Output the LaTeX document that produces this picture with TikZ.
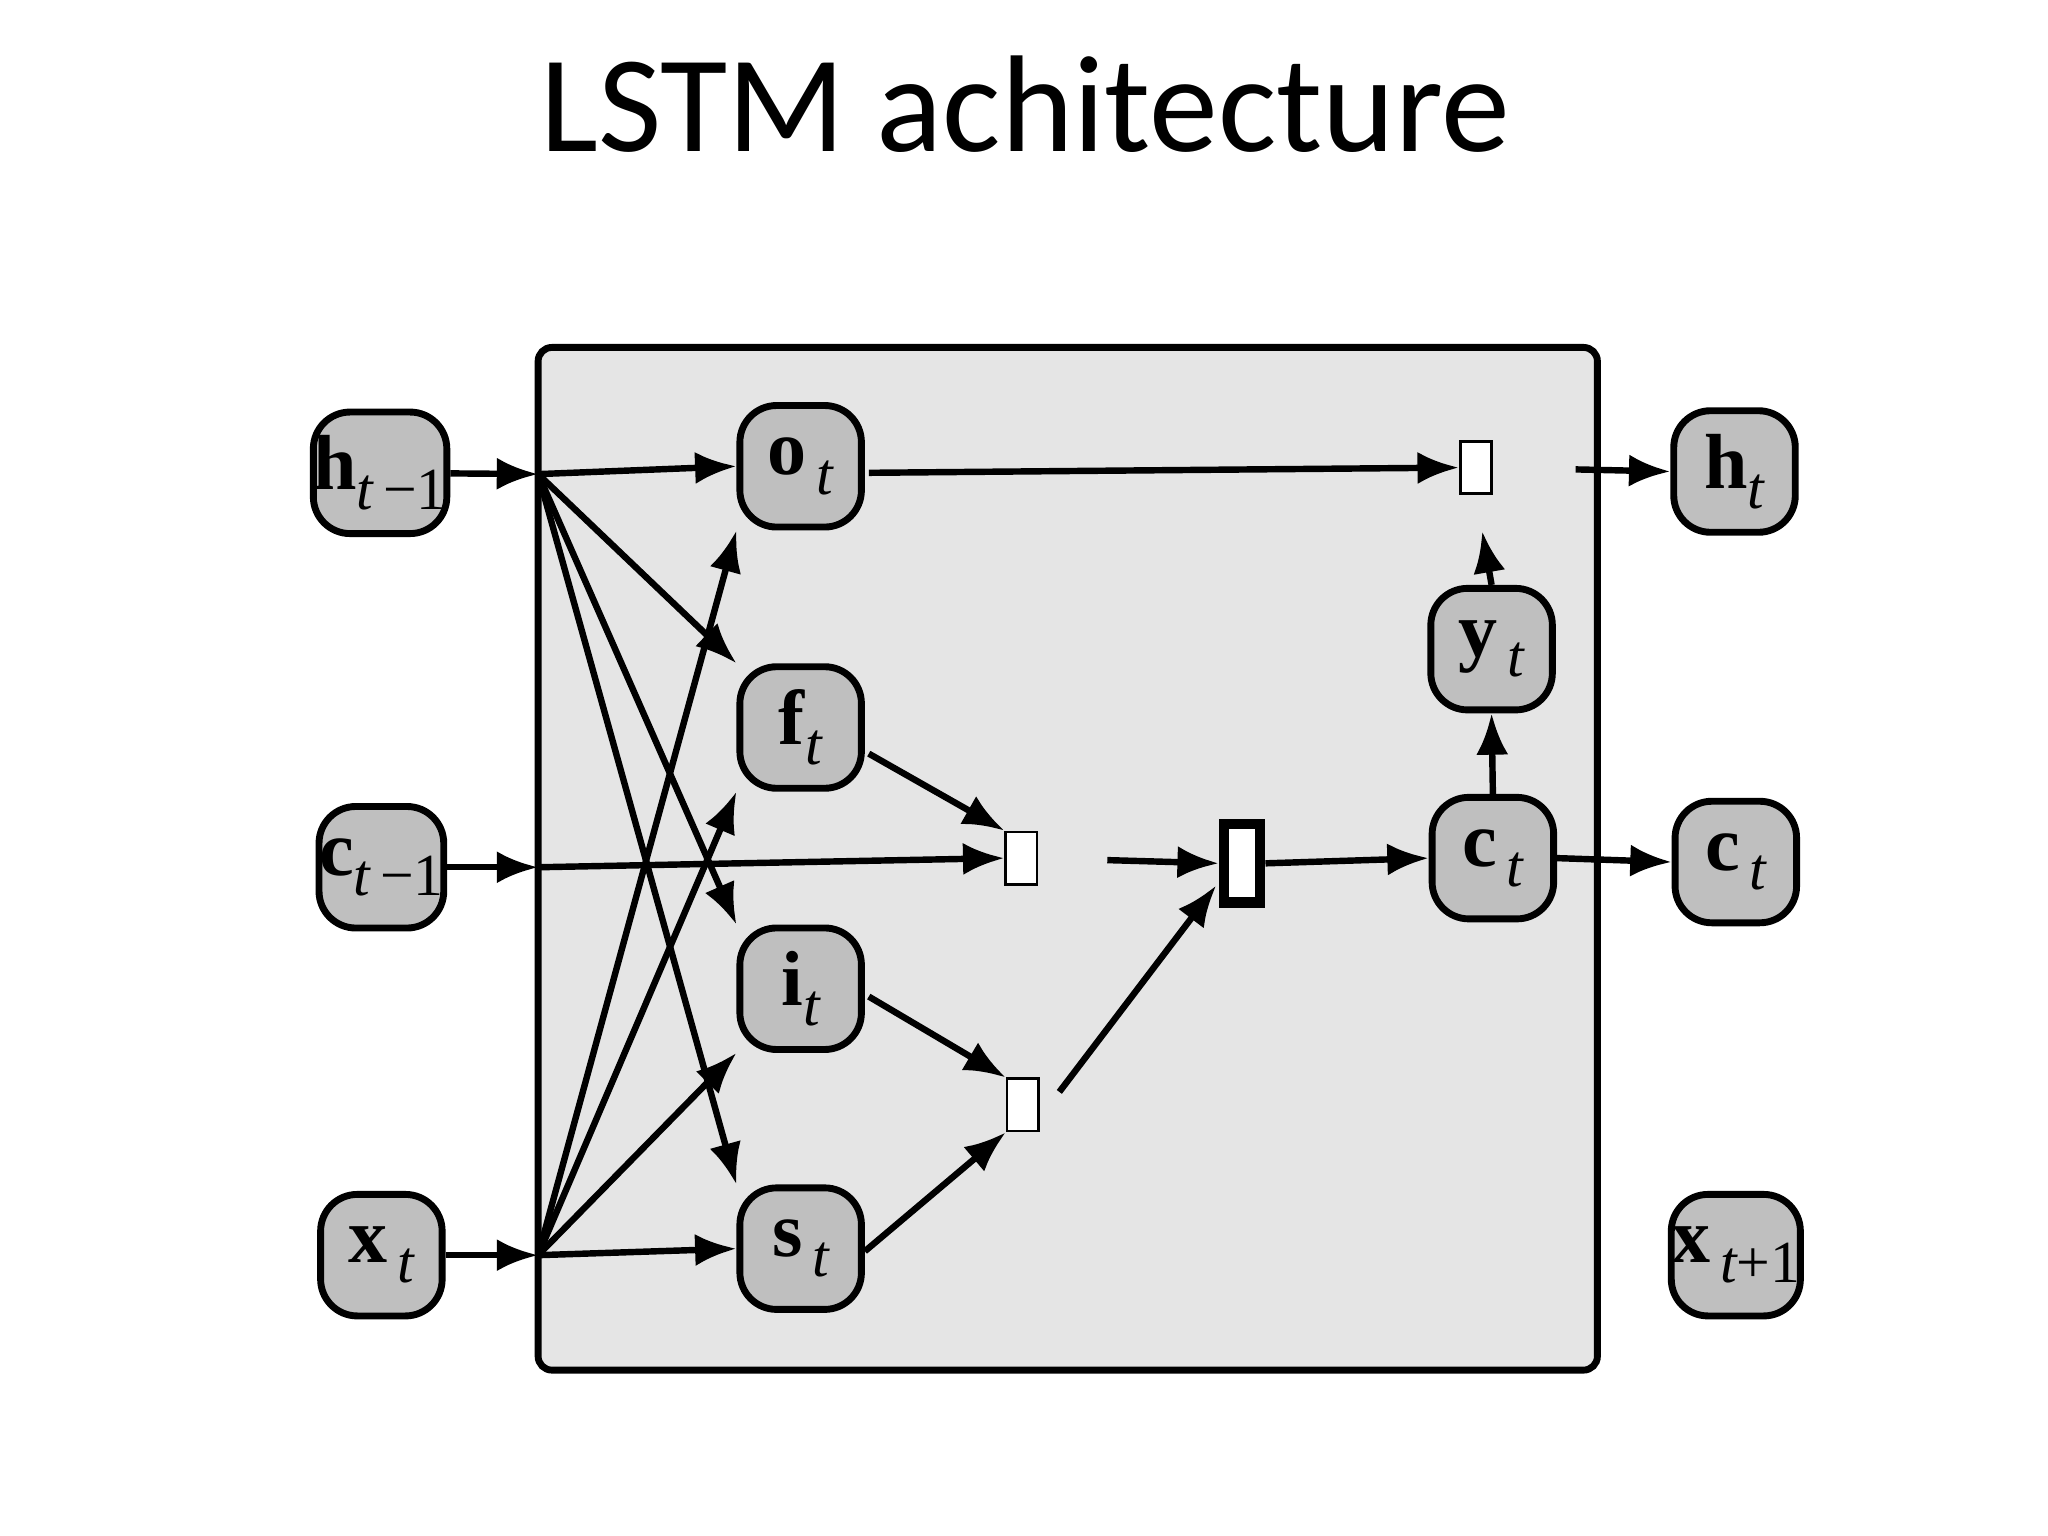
\documentclass[tikz,border=0pt]{standalone}
\usepackage{fontspec}
\setmainfont{Liberation Serif}
\newfontfamily\titlefont{Carlito}
\usetikzlibrary{arrows.meta,calc}
\begin{document}
\begin{tikzpicture}[x=0.01cm,y=-0.01cm,
  box/.style={draw,line width=1.5pt,fill=black!25,rounded corners=8,minimum width=0.93cm,minimum height=0.93cm,inner sep=0pt,font=\fontsize{17}{20}\selectfont},
  gate/.style={draw,line width=0.6pt,fill=white,minimum width=0.24cm,minimum height=0.4cm,inner sep=0pt},
  ar/.style={line width=1.4pt,-{Latex[length=9pt,width=7pt]}}]
\useasboundingbox (0,0) rectangle (1568,1176);
\node[font=\titlefont\fontsize{30}{34}\selectfont] (title) at (785,80) {LSTM achitecture};
\draw[line width=1.5pt,fill=black!10,rounded corners=3] (412,266) rectangle (1223,1049);
\newcommand{\lbl}[2]{\textbf{#1}\raisebox{-0.55ex}{\fontsize{13}{14}\selectfont\itshape #2}}
\node[box] (hp) at (291,362) {\lbl{h}{t\,\upshape−1}};
\node[box] (cp) at (292,664) {\lbl{c}{t\,\upshape−1}};
\node[box] (xt) at (292,961) {\lbl{x}{\,t}};
\node[box] (ot) at (613,357) {\lbl{o}{\,t}};
\node[box] (ft) at (613,557) {\lbl{f}{t}};
\node[box] (it) at (613,757) {\lbl{i}{t}};
\node[box] (st) at (613,956) {\lbl{s}{\,t}};
\node[box] (yt) at (1142,497) {\lbl{y}{\,t}};
\node[box] (ct) at (1143,657) {\lbl{c}{\,t}};
\node[box] (ho) at (1328,361) {\lbl{h}{t}};
\node[box] (co) at (1329,660) {\lbl{c}{\,t}};
\node[box] (xn) at (1329,961) {\lbl{x}{\,t\upshape+1}};
\node[gate] (tg) at (1130,358) {};
\node[gate] (fg) at (782,657) {};
\node[gate] (ig) at (783,846) {};
\node[draw,line width=2.2pt,fill=white,minimum width=0.28cm,minimum height=0.6cm,inner sep=0pt] (sum) at (951,661) {};
\coordinate (J1) at (412,363);
\coordinate (J2) at (412,961);
\coordinate (Jc) at (412,664);
\draw[ar] (hp) -- (J1);
\draw[ar] (xt) -- (J2);
\draw[ar] (cp) -- (Jc);
\draw[ar] (J1) -- (ot.west);
\draw[ar] (J1) -- (ft.north west);
\draw[ar] (J1) -- (it.north west);
\draw[ar] (J1) -- (st.north west);
\draw[ar] (J2) -- (ot.south west);
\draw[ar] (J2) -- (ft.south west);
\draw[ar] (J2) -- (it.south west);
\draw[ar] (J2) -- (st.west);
\draw[ar] (Jc) -- (fg.west);
\draw[ar] ($(ft.east)+(3,20)$) -- (fg.north west);
\draw[ar] ($(it.east)+(3,6)$) -- (ig.north west);
\draw[ar] ($(st.east)+(0,2)$) -- (ig.south west);
\draw[ar,shorten <=15pt] (fg.east) -- (sum.west);
\draw[ar] ($(ig.east)+(15,-10)$) -- ($(sum.west)+(-2,17)$);
\draw[ar] (sum.east) -- (ct.west);
\draw[ar] (ct.north) -- (yt.south);
\draw[ar,shorten >=8pt] (yt.north) -- (tg.south);
\draw[ar] (ot.east) ++(3,5) -- (tg.west);
\draw[ar,shorten <=18pt] (tg.east) -- (ho.west);
\draw[ar] (ct.east) -- (co.west);
\end{tikzpicture}
\end{document}
